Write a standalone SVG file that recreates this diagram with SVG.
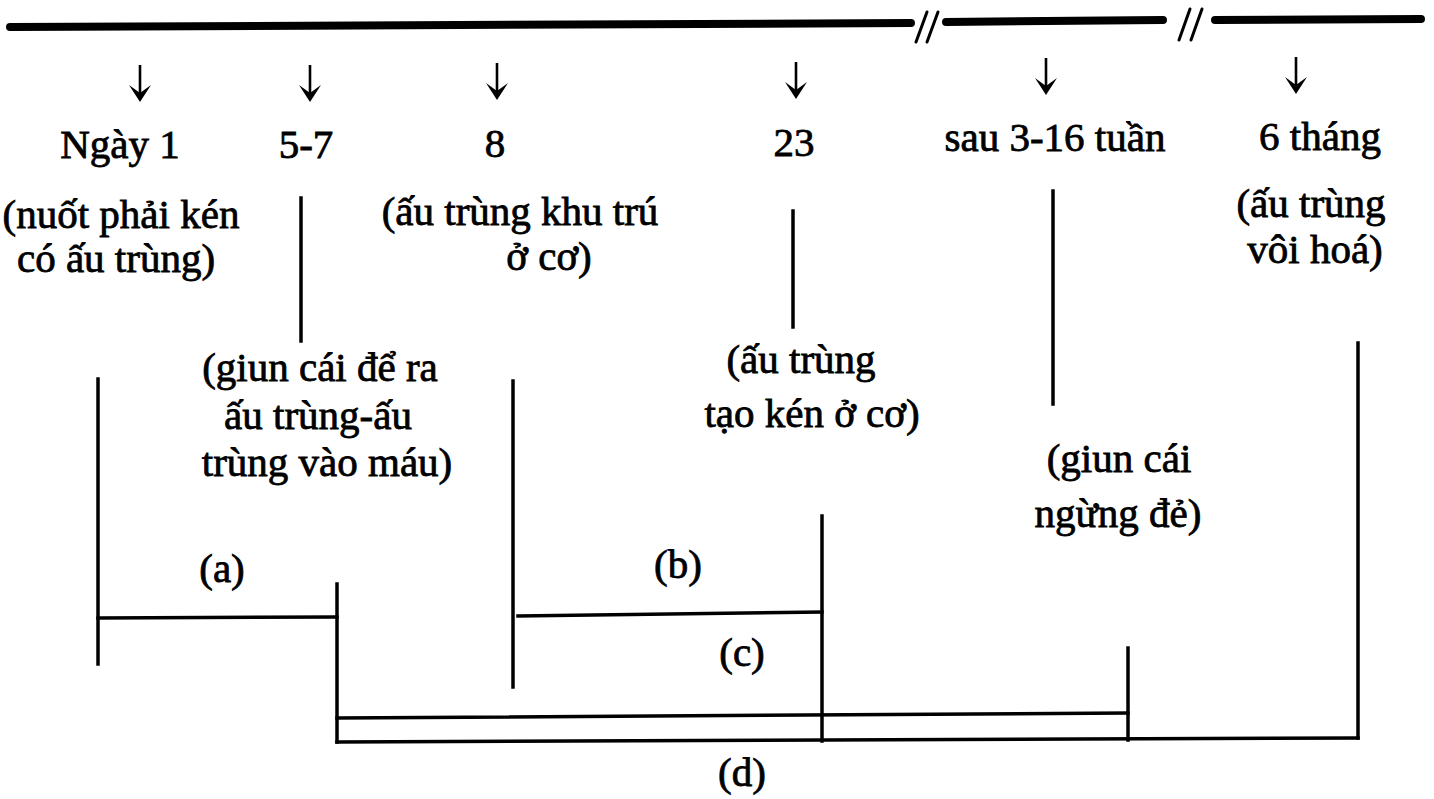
<svg xmlns="http://www.w3.org/2000/svg" width="1434" height="799" viewBox="0 0 1434 799">
<style>
text{font-family:'Liberation Serif','DejaVu Serif',serif;font-size:41px;fill:#000;stroke:#000;stroke-width:0.8;text-anchor:middle}
.ln{stroke:#000;stroke-width:3.5;fill:none;stroke-linecap:square}
.top{stroke:#000;stroke-width:8;fill:none;stroke-linecap:round}
.sl{stroke:#000;stroke-width:3;fill:none;stroke-linecap:round}
.stem{stroke:#000;stroke-width:2.6;fill:none}
</style>
<defs>
<g id="arr"><line class="stem" x1="0" y1="0" x2="0" y2="34"/><polygon points="0,37 -11,20 0,28 11,20" fill="#000"/></g>
</defs>
<rect width="1434" height="799" fill="#fff"/>
<g id="timeline">
<line class="top" x1="10" y1="27" x2="911" y2="23"/>
<line class="top" x1="946" y1="22" x2="1163" y2="20"/>
<line class="top" x1="1215" y1="20" x2="1421" y2="19"/>
<line class="sl" x1="927" y1="12" x2="916" y2="42"/>
<line class="sl" x1="938" y1="12" x2="927" y2="42"/>
<line class="sl" x1="1190" y1="9" x2="1179" y2="40"/>
<line class="sl" x1="1202" y1="9" x2="1191" y2="40"/>
</g>
<g id="arrows">
<use href="#arr" x="140" y="65"/>
<use href="#arr" x="310" y="65"/>
<use href="#arr" x="497" y="63"/>
<use href="#arr" x="796" y="62"/>
<use href="#arr" x="1046" y="58"/>
<use href="#arr" x="1296" y="57"/>
</g>
<g id="n-day1">
<text x="120" y="158">Ngày 1</text>
<text x="121" y="228">(nuốt phải kén</text>
<text x="116" y="272">có ấu trùng)</text>
</g>
<g id="n-day5-7">
<text x="306" y="158">5-7</text>
<text x="320" y="381">(giun cái để ra</text>
<text x="318" y="429">ấu trùng-ấu</text>
<text x="327" y="476">trùng vào máu)</text>
</g>
<g id="n-day8">
<text x="495" y="157">8</text>
<text x="520" y="225">(ấu trùng khu trú</text>
<text x="549" y="270">ở cơ)</text>
</g>
<g id="n-day23">
<text x="794" y="156">23</text>
<text x="801" y="373">(ấu trùng</text>
<text x="812" y="427">tạo kén ở cơ)</text>
</g>
<g id="n-weeks">
<text x="1055" y="151">sau 3-16 tuần</text>
<text x="1119" y="472">(giun cái</text>
<text x="1118" y="527">ngừng đẻ)</text>
</g>
<g id="n-months">
<text x="1320" y="150">6 tháng</text>
<text x="1311" y="217">(ấu trùng</text>
<text x="1315" y="263">vôi hoá)</text>
</g>
<g id="labels">
<text x="222" y="582">(a)</text>
<text x="678" y="578">(b)</text>
<text x="742" y="666">(c)</text>
<text x="742" y="786">(d)</text>
</g>
<g id="connectors">
<line class="ln" x1="301" y1="198" x2="301" y2="341"/>
<line class="ln" x1="793" y1="211" x2="793" y2="327"/>
<line class="ln" x1="1053" y1="191" x2="1053" y2="404"/>
<line class="ln" x1="98" y1="379" x2="98" y2="664"/>
<line class="ln" x1="98" y1="618" x2="337" y2="617"/>
<line class="ln" x1="337" y1="584" x2="337" y2="742"/>
<line class="ln" x1="513" y1="381" x2="513" y2="687"/>
<line class="ln" x1="518" y1="616" x2="822" y2="612"/>
<line class="ln" x1="822" y1="516" x2="822" y2="741"/>
<line class="ln" x1="337" y1="718" x2="1128" y2="713"/>
<line class="ln" x1="1128" y1="648" x2="1128" y2="740"/>
<line class="ln" x1="337" y1="742" x2="1358" y2="738"/>
<line class="ln" x1="1358" y1="343" x2="1358" y2="738"/>
</g>
</svg>
